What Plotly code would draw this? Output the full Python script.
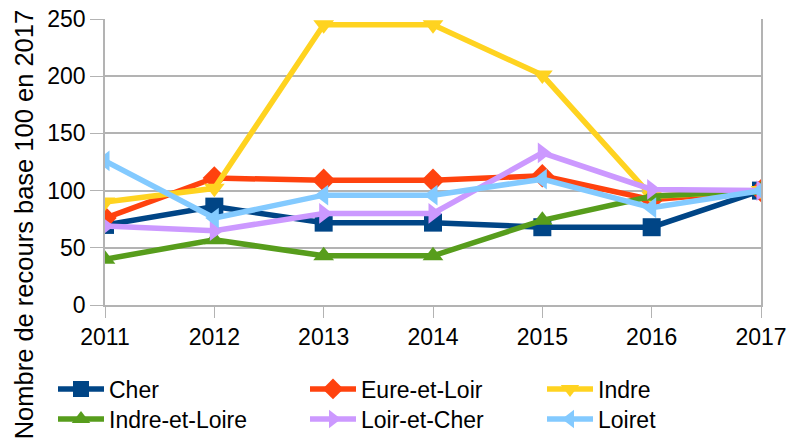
import plotly.graph_objects as go

years = [2011, 2012, 2013, 2014, 2015, 2016, 2017]
cher = [70, 86, 72, 72, 68, 68, 100]
eure_et_loir = [76, 111, 109, 109, 113, 92, 100]
indre = [90, 102, 245, 245, 201, 95, 100]
indre_et_loire = [40, 57, 43, 43, 74, 95, 100]
loir_et_cher = [69, 65, 80, 80, 133, 101, 100]
loiret = [126, 76, 96, 96, 110, 85, 100]

series = [
    ("Cher", cher, "#004586", "square"),
    ("Eure-et-Loir", eure_et_loir, "#ff420e", "diamond"),
    ("Indre", indre, "#ffd320", "triangle-down"),
    ("Indre-et-Loire", indre_et_loire, "#579d1c", "triangle-up"),
    ("Loir-et-Cher", loir_et_cher, "#cc99ff", "triangle-right"),
    ("Loiret", loiret, "#83caff", "triangle-left"),
]

W, H = 800, 441
legend_names = ["legend", "legend2", "legend3", "legend4", "legend5", "legend6"]
col_x = [53, 305, 542]
row_y = [389, 419]

fig = go.Figure()
for i, (name, vals, color, sym) in enumerate(series):
    fig.add_trace(go.Scatter(
        x=years, y=vals, name=name, mode="lines+markers",
        line=dict(color=color, width=5.5),
        marker=dict(symbol=sym, size=18, color=color),
        legend=legend_names[i],
    ))

font = "Liberation Sans, Arial, sans-serif"
legends = {}
for i, ln in enumerate(legend_names):
    legends[ln] = dict(
        orientation="h", xref="container", yref="container",
        xanchor="left", yanchor="middle",
        x=col_x[i % 3] / W, y=1 - row_y[i // 3] / H,
        font=dict(family=font, size=23, color="#000000"),
        bgcolor="rgba(0,0,0,0)", itemwidth=46,
    )

plot_l, plot_r, plot_t, plot_b = 105, 761, 18.7, 305.3
fig.update_layout(
    width=W, height=H,
    margin=dict(l=plot_l, r=W - plot_r, t=plot_t, b=H - plot_b),
    paper_bgcolor="white", plot_bgcolor="white",
    font=dict(family=font, size=23, color="#000000"),
    showlegend=True,
    **legends,
    xaxis=dict(
        range=[2011, 2017], tickvals=years, ticktext=[str(y) for y in years],
        showgrid=False, showline=True, linecolor="#b3b3b3", linewidth=1.5,
        ticks="outside", ticklen=11, tickcolor="#b3b3b3", mirror=False,
        tickfont=dict(size=23), zeroline=False, automargin=False,
        ticklabeloverflow="allow",
    ),
    yaxis=dict(
        range=[0, 250], tickvals=[0, 50, 100, 150, 200, 250],
        showgrid=True, gridcolor="#b3b3b3", gridwidth=1.5,
        showline=True, linecolor="#b3b3b3", linewidth=1.5, mirror=True,
        ticks="outside", ticklen=13, tickcolor="#b3b3b3",
        tickfont=dict(size=23), zeroline=False, automargin=False,
        ticklabeloverflow="allow",
    ),
    annotations=[dict(
        text="Nombre de recours base 100 en 2017", textangle=-90,
        xref="paper", yref="paper",
        x=(24 - plot_l) / (plot_r - plot_l), y=(plot_b - 224.5) / (plot_b - plot_t),
        xanchor="center", yanchor="middle", showarrow=False,
        font=dict(family=font, size=25.5, color="#000000"),
    )],
)
fig.write_html(
    "out.html",
    config={"displayModeBar": False},
    post_script="document.body.style.margin='0';document.body.style.padding='0';",
)
